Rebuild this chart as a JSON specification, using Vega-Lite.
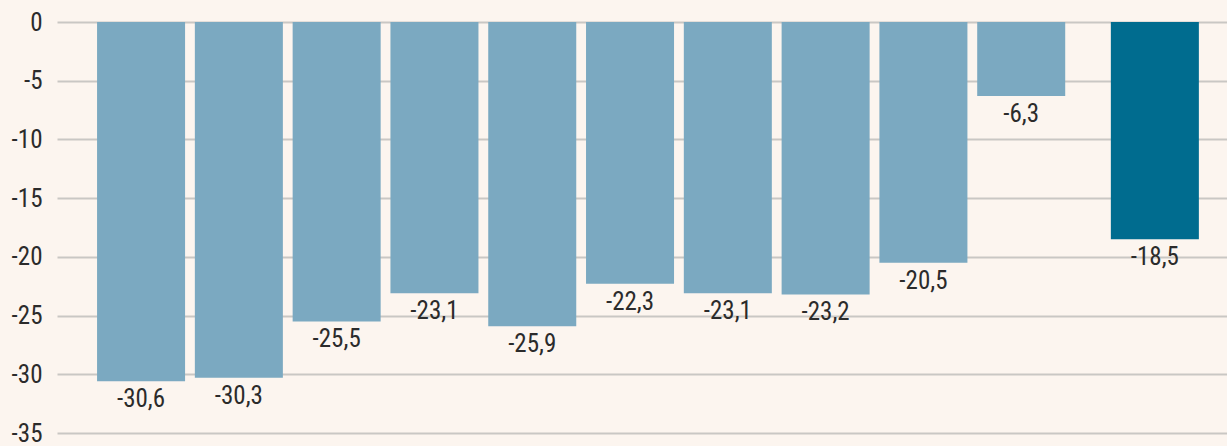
{
  "$schema": "https://vega.github.io/schema/vega-lite/v6.json",
  "autosize": {"type": "none"},
  "width": 1170,
  "height": 411,
  "padding": {"left": 57, "top": 22, "right": 0, "bottom": 13},
  "background": "#fcf5ef",
  "config": {
    "view": {"stroke": null},
    "font": "Liberation Sans Narrow, Roboto Condensed, DejaVu Sans Condensed, Roboto, sans-serif",
    "locale": {
      "number": {"decimal": ",", "thousands": ".", "grouping": [3], "currency": ["", " €"], "minus": "-"}
    }
  },
  "data": {
    "values": [
      {"cat": "1", "group": "main", "value": -30.6},
      {"cat": "2", "group": "main", "value": -30.3},
      {"cat": "3", "group": "main", "value": -25.5},
      {"cat": "4", "group": "main", "value": -23.1},
      {"cat": "5", "group": "main", "value": -25.9},
      {"cat": "6", "group": "main", "value": -22.3},
      {"cat": "7", "group": "main", "value": -23.1},
      {"cat": "8", "group": "main", "value": -23.2},
      {"cat": "9", "group": "main", "value": -20.5},
      {"cat": "10", "group": "main", "value": -6.3},
      {"cat": "Total", "group": "total", "value": -18.5}
    ]
  },
  "encoding": {
    "y": {
      "field": "value",
      "type": "quantitative",
      "scale": {"domain": [-35, 0], "nice": false, "zero": false},
      "axis": {
        "title": null,
        "values": [0, -5, -10, -15, -20, -25, -30, -35],
        "format": "d",
        "domain": false,
        "ticks": false,
        "tickSize": 0,
        "labelPadding": 15,
        "labelFontSize": 25,
        "labelColor": "#2b2b2b",
        "grid": true,
        "gridColor": "#c9c7c4",
        "gridWidth": 2
      }
    }
  },
  "layer": [
    {
      "transform": [{"filter": "datum.group === 'main'"}],
      "encoding": {
        "x": {
          "field": "cat",
          "type": "nominal",
          "axis": null,
          "scale": {
            "domain": ["1", "2", "3", "4", "5", "6", "7", "8", "9", "10", " "],
            "paddingInner": 0.1,
            "paddingOuter": 0.532,
            "align": 0.385
          }
        }
      },
      "layer": [
        {"mark": {"type": "bar", "color": "#7ba9c1"}},
        {
          "mark": {"type": "text", "baseline": "top", "dy": 6, "fontSize": 25, "color": "#2b2b2b"},
          "encoding": {"text": {"field": "value", "type": "quantitative", "format": ".1f"}}
        }
      ]
    },
    {
      "transform": [{"filter": "datum.group === 'total'"}],
      "encoding": {
        "x": {
          "field": "cat",
          "type": "nominal",
          "axis": null,
          "scale": {"paddingInner": 0.8373, "paddingOuter": 1, "align": 0.974}
        }
      },
      "layer": [
        {"mark": {"type": "bar", "color": "#006c8f"}},
        {
          "mark": {"type": "text", "baseline": "top", "dy": 6, "fontSize": 25, "color": "#2b2b2b"},
          "encoding": {"text": {"field": "value", "type": "quantitative", "format": ".1f"}}
        }
      ]
    }
  ],
  "resolve": {"scale": {"x": "independent"}}
}
